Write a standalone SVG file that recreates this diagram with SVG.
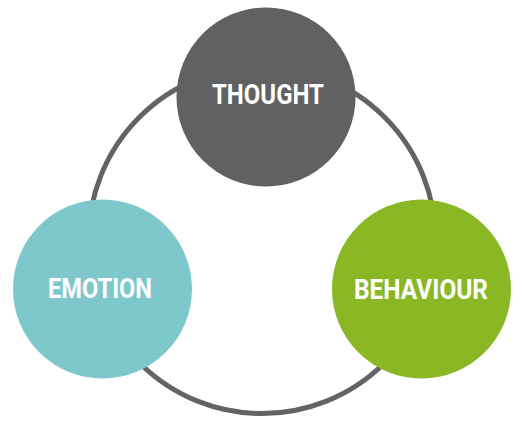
<svg xmlns="http://www.w3.org/2000/svg" width="522" height="423" viewBox="0 0 522 423">
  <style>
    .ring { fill: none; stroke: #636363; stroke-width: 5; }
    .lbl { font-family: Roboto, "Liberation Sans", sans-serif; font-weight: bold; font-size: 28px; fill: #ffffff; text-anchor: middle; }
  </style>
  <rect width="522" height="423" fill="#ffffff"/>
  <g id="connectors">
    <circle class="ring" cx="262" cy="240" r="173.5"/>
  </g>
  <g id="thought">
    <circle cx="266" cy="97" r="89.5" fill="#616161"/>
    <text class="lbl" x="268" y="104" textLength="112" lengthAdjust="spacingAndGlyphs">THOUGHT</text>
  </g>
  <g id="emotion">
    <circle cx="102.5" cy="289" r="89.5" fill="#7ec8cc"/>
    <text class="lbl" x="100" y="298" textLength="104" lengthAdjust="spacingAndGlyphs">EMOTION</text>
  </g>
  <g id="behaviour">
    <circle cx="421.5" cy="289" r="89.5" fill="#8ab825"/>
    <text class="lbl" x="421" y="299" textLength="134" lengthAdjust="spacingAndGlyphs">BEHAVIOUR</text>
  </g>
</svg>
